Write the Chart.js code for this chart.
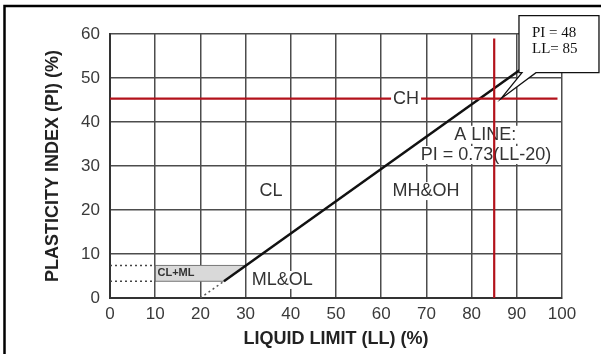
<!DOCTYPE html>
<html>
<head>
<meta charset="utf-8">
<script src="https://cdn.jsdelivr.net/npm/chart.js@4.4.0/dist/chart.umd.min.js"></script>
<style>
  html, body { margin: 0; padding: 0; background: #fff; }
</style>
</head>
<body>
<canvas id="plasticityChart" width="601" height="354"></canvas>
<script>
// tick values
var llTicks = [0, 10, 20, 30, 40, 50, 60, 70, 80, 90, 100];
var piTicks = [0, 10, 20, 30, 40, 50, 60];

// A line and its dotted extension to the x axis
var aLineLL = [25.2, 95];
var aLinePI = [3.8, 55];
var aLineExtLL = [20, 25.2];
var aLineExtPI = [0, 3.8];

// CL+ML band (closed outline) and the dotted limits left of it
var clmlLL = [10, 25.2, 30.1, 10, 10];
var clmlPI = [3.8, 3.8, 7.4, 7.4, 3.8];
var bandLL = [0, 10];
var bandPI = [3.8, 7.4];

// sample point marked with red lines
var sampleLL = 85;
var samplePI = 45.3;
var redHLL = [0, 99];
var redVPI = [0, 59];

function pts(xs, ys) {
    return xs.map(function (x, i) { return { x: x, y: ys[i] }; });
}

var family = "'Liberation Sans', Arial, sans-serif";
var gridColor = '#4d4d4d';
var red = '#b3121b';

var datasets = [
    {
        label: 'red horizontal',
        data: pts(redHLL, [samplePI, samplePI]),
        borderColor: red, borderWidth: 2.2
    },
    {
        label: 'red vertical',
        data: pts([sampleLL, sampleLL], redVPI),
        borderColor: red, borderWidth: 2.2
    },
    {
        label: 'A line',
        data: pts(aLineLL, aLinePI),
        borderColor: '#111', borderWidth: 2.5
    },
    {
        label: 'A line ext',
        data: pts(aLineExtLL, aLineExtPI),
        borderColor: '#555', borderWidth: 1.5, borderDash: [2, 3]
    },
    {
        label: 'PI 4',
        data: pts(bandLL, [bandPI[0], bandPI[0]]),
        borderColor: '#444', borderWidth: 1.5, borderDash: [2, 3]
    },
    {
        label: 'PI 7',
        data: pts(bandLL, [bandPI[1], bandPI[1]]),
        borderColor: '#444', borderWidth: 1.5, borderDash: [2, 3]
    },
    {
        label: 'CL+ML',
        data: pts(clmlLL, clmlPI),
        borderColor: '#777', borderWidth: 1,
        backgroundColor: '#d9d9d9', fill: 'shape'
    }
];
datasets.forEach(function (d) {
    d.showLine = true;
    d.pointRadius = 0;
    d.pointHoverRadius = 0;
});

// labels placed in data units
var underLabels = [
    { text: 'CL', ll: 35.6, pi: 24.3 },
    { text: 'MH&OH', ll: 69.9, pi: 24.3 },
    { text: 'ML&OL', ll: 38.1, pi: 4.1 },
    { text: 'A LINE:', ll: 83, pi: 37.1 },
    { text: 'PI = 0.73(LL-20)', ll: 83.2, pi: 32.5 }
];
var overLabels = [
    { text: 'CH', ll: 65.5, pi: 45.3 }
];

function tag(ctx, text, x, y, font, bg) {
    ctx.save();
    ctx.font = font;
    var w = ctx.measureText(text).width;
    if (bg) {
        ctx.fillStyle = '#fff';
        ctx.fillRect(x - w / 2 - 2, y - 9, w + 4, 18);
    }
    ctx.fillStyle = '#333';
    ctx.textAlign = 'center';
    ctx.textBaseline = 'middle';
    ctx.fillText(text, x, y);
    ctx.restore();
}

var decor = {
    id: 'decor',
    beforeDraw: function (chart) {
        var ctx = chart.ctx;
        ctx.save();
        ctx.fillStyle = '#fff';
        ctx.fillRect(0, 0, chart.width, chart.height);
        ctx.strokeStyle = '#000';
        ctx.lineWidth = 2.5;
        ctx.beginPath();
        ctx.moveTo(chart.width, 6);
        ctx.lineTo(4.5, 6);
        ctx.lineTo(4.5, chart.height);
        ctx.stroke();
        ctx.restore();
    },
    beforeDatasetsDraw: function (chart) {
        var x = chart.scales.x, y = chart.scales.y;
        underLabels.forEach(function (l) {
            tag(chart.ctx, l.text, x.getPixelForValue(l.ll), y.getPixelForValue(l.pi), '18px ' + family, true);
        });
    },
    afterDatasetsDraw: function (chart) {
        var ctx = chart.ctx, x = chart.scales.x, y = chart.scales.y;
        overLabels.forEach(function (l) {
            tag(ctx, l.text, x.getPixelForValue(l.ll), y.getPixelForValue(l.pi), '18px ' + family, true);
        });
        tag(ctx, 'CL+ML', x.getPixelForValue(14.6), y.getPixelForValue(5.6), 'bold 11px ' + family, false);

        // callout pointing at the sample
        var tx = x.getPixelForValue(86.5), ty = y.getPixelForValue(samplePI);
        var bl = tx + 18, bt = ty - 83, bw = 80, bh = 57;
        ctx.save();
        ctx.beginPath();
        ctx.moveTo(bl, bt);
        ctx.lineTo(bl + bw, bt);
        ctx.lineTo(bl + bw, bt + bh);
        ctx.lineTo(bl + 17, bt + bh);
        ctx.lineTo(tx, ty);
        ctx.lineTo(bl + 3, bt + bh);
        ctx.lineTo(bl, bt + bh);
        ctx.closePath();
        ctx.fillStyle = '#fff';
        ctx.fill();
        ctx.strokeStyle = '#111';
        ctx.lineWidth = 1.3;
        ctx.stroke();
        ctx.fillStyle = '#111';
        ctx.font = "15px 'Liberation Serif', 'Times New Roman', serif";
        ctx.textAlign = 'left';
        ctx.textBaseline = 'alphabetic';
        ctx.fillText('PI = 48', bl + 13, bt + 21);
        ctx.fillText('LL= 85', bl + 13, bt + 37);
        ctx.restore();
    }
};

var ctx = document.getElementById('plasticityChart').getContext('2d');
var plasticityChart = new Chart(ctx, {
    type: 'scatter',
    data: { datasets: datasets },
    plugins: [decor],
    options: {
        responsive: false,
        animation: false,
        layout: { padding: { top: 34, right: 39, left: 0, bottom: 0 } },
        plugins: {
            legend: { display: false },
            tooltip: { enabled: false }
        },
        scales: {
            x: {
                type: 'linear',
                min: 0,
                max: 100,
                afterFit: function (s) { s.height = 56; },
                afterBuildTicks: function (s) {
                    s.ticks = llTicks.map(function (v) { return { value: v }; });
                },
                grid: { color: gridColor, lineWidth: 1.5, drawTicks: false },
                border: { color: '#333', width: 2 },
                ticks: { padding: 6, color: '#3a3a3a', font: { family: family, size: 17 } },
                title: {
                    display: true,
                    text: 'LIQUID LIMIT (LL) (%)',
                    color: '#222',
                    font: { family: family, size: 18, weight: 'bold' },
                    padding: { top: 0, bottom: 4 }
                }
            },
            y: {
                type: 'linear',
                min: 0,
                max: 60,
                afterFit: function (s) { s.width = 110; },
                afterBuildTicks: function (s) {
                    s.ticks = piTicks.map(function (v) { return { value: v }; });
                },
                grid: { color: gridColor, lineWidth: 1.5, drawTicks: false },
                border: { color: '#333', width: 2 },
                ticks: { padding: 10, color: '#3a3a3a', font: { family: family, size: 17 } },
                title: {
                    display: true,
                    text: 'PLASTICITY INDEX (PI) (%)',
                    color: '#222',
                    font: { family: family, size: 18, weight: 'bold' },
                    padding: { top: 42, bottom: 0 }
                }
            }
        }
    }
});
</script>
</body>
</html>
